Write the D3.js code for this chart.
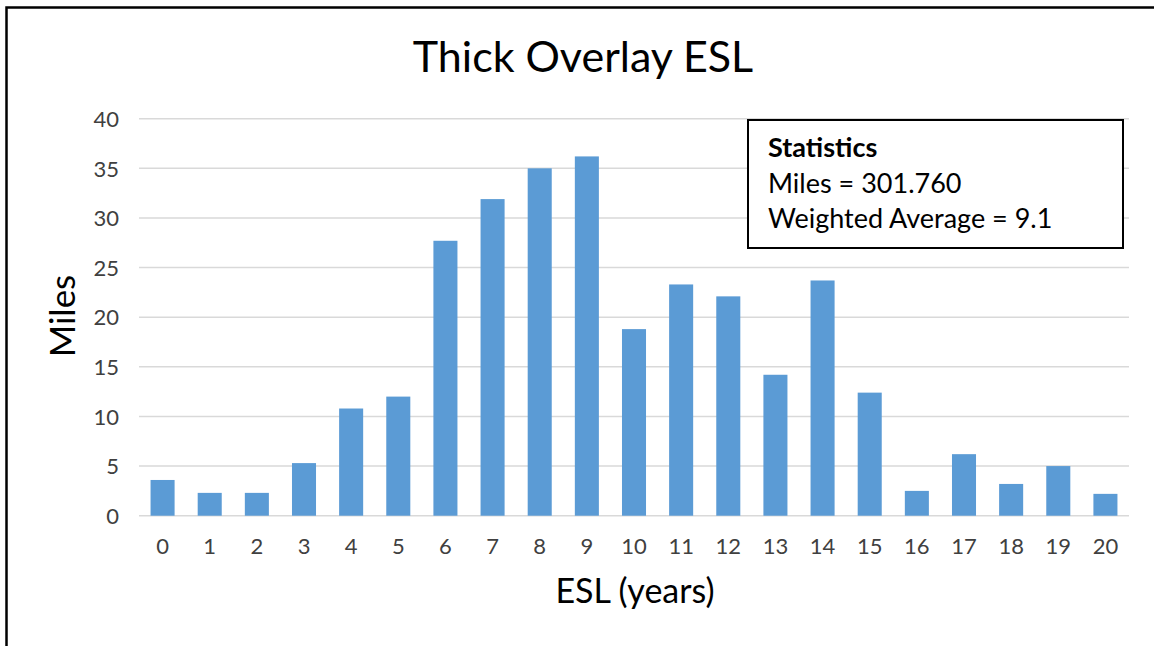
<!DOCTYPE html>
<html>
<head>
<meta charset="utf-8">
<script src="https://cdn.jsdelivr.net/npm/d3@7"></script>
<style>
  html, body { margin: 0; padding: 0; background: #fff; overflow: hidden; }
  svg { display: block; font-family: Lato, "Open Sans", sans-serif; }
</style>
</head>
<body>
<svg id="chart" width="1154" height="646"></svg>
<script>
// ---- data ----
const categories = ["0","1","2","3","4","5","6","7","8","9","10","11","12","13","14","15","16","17","18","19","20"];
const miles = [3.6, 2.3, 2.3, 5.3, 10.8, 12.0, 27.7, 31.9, 35.0, 36.2, 18.8, 23.3, 22.1, 14.2, 23.7, 12.4, 2.5, 6.2, 3.2, 5.0, 2.2];
const yTicks = [0, 5, 10, 15, 20, 25, 30, 35, 40];
const titleText = "Thick Overlay ESL";
const xTitle = "ESL (years)";
const yTitle = "Miles";
const statsLines = ["Statistics", "Miles = 301.760", "Weighted Average = 9.1"];

const svg = d3.select("#chart");

// outer frame (extends beyond the viewport on right & bottom)
svg.append("rect")
  .attr("x", 6.5).attr("y", 7.5)
  .attr("width", 1200).attr("height", 700)
  .attr("fill", "none").attr("stroke", "#000").attr("stroke-width", 2.5);

const x = d3.scaleBand().domain(categories).range([139, 1129]).paddingInner(0.49).paddingOuter(0.245);
const y = d3.scaleLinear().domain([0, 40]).range([515.7, 118.7]);

// gridlines
svg.append("g").selectAll("line").data(yTicks).join("line")
  .attr("x1", 139).attr("x2", 1129)
  .attr("y1", d => y(d)).attr("y2", d => y(d))
  .attr("stroke", "#d9d9d9").attr("stroke-width", 1.5);

// y axis labels
const yAxis = d3.axisLeft(y).tickValues(yTicks).tickSize(0).tickPadding(0);
const gy = svg.append("g").attr("transform", "translate(119,0)").call(yAxis);
gy.select(".domain").remove();
gy.selectAll("text").attr("font-size", 22).attr("fill", "#404040")
  .attr("font-family", "Lato, 'Open Sans', sans-serif").attr("dy", "0.35em");

// bars
svg.append("g").selectAll("rect").data(miles).join("rect")
  .attr("x", (d, i) => x(categories[i]))
  .attr("width", x.bandwidth())
  .attr("y", d => y(d))
  .attr("height", d => y(0) - y(d))
  .attr("fill", "#5b9bd5");

// x axis labels
const xAxis = d3.axisBottom(x).tickSize(0).tickPadding(0);
const gx = svg.append("g").attr("transform", "translate(0,538)").call(xAxis);
gx.select(".domain").remove();
gx.selectAll("text").attr("font-size", 22).attr("fill", "#404040")
  .attr("font-family", "Lato, 'Open Sans', sans-serif").attr("dy", "0.71em");

// title
svg.append("text").attr("x", 583).attr("y", 72).attr("text-anchor", "middle")
  .attr("font-size", 43).attr("fill", "#000").text(titleText);

// axis titles
svg.append("text").attr("x", 635).attr("y", 603).attr("text-anchor", "middle")
  .attr("font-size", 34).attr("fill", "#000").text(xTitle);
svg.append("text").attr("transform", "translate(75,316) rotate(-90)").attr("text-anchor", "middle")
  .attr("font-size", 35).attr("fill", "#000").text(yTitle);

// statistics box
svg.append("rect").attr("x", 748).attr("y", 120).attr("width", 375).attr("height", 128)
  .attr("fill", "#fff").attr("stroke", "#000").attr("stroke-width", 2);
svg.append("g").selectAll("text").data(statsLines).join("text")
  .attr("x", 768).attr("y", (d, i) => 157 + i * 35.5)
  .attr("font-size", 27).attr("font-weight", (d, i) => i === 0 ? "bold" : "normal")
  .attr("fill", "#000").text(d => d);
</script>
</body>
</html>
